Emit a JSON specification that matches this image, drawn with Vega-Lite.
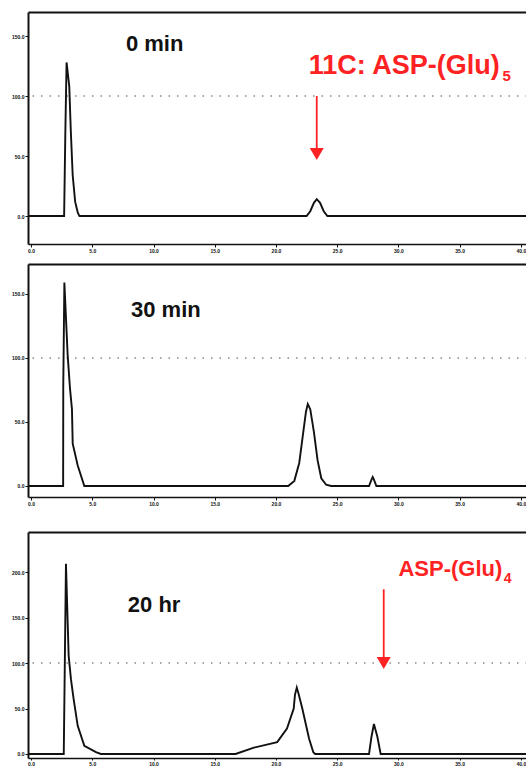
{
  "$schema": "https://vega.github.io/schema/vega-lite/v6.json",
  "background": "white",
  "padding": {"left": 11, "top": 12, "right": 0, "bottom": 0},
  "config": {
    "view": {"stroke": null},
    "font": "Liberation Sans",
    "axis": {"grid": false, "title": null, "domainColor": "#111", "tickColor": "#111", "labelColor": "#111", "labelFont": "Liberation Sans", "labelFontWeight": "bold", "labelFontSize": 5}
  },
  "datasets": {
    "p1": [
      {"t": -0.25, "v": 0}, {"t": 2.70, "v": 0}, {"t": 2.80, "v": 70}, {"t": 2.90, "v": 128}, {"t": 3.12, "v": 108}, {"t": 3.25, "v": 70}, {"t": 3.40, "v": 34}, {"t": 3.60, "v": 12}, {"t": 3.81, "v": 3}, {"t": 3.95, "v": 0},
      {"t": 22.5, "v": 0}, {"t": 22.8, "v": 4}, {"t": 23.1, "v": 11}, {"t": 23.33, "v": 14}, {"t": 23.6, "v": 11}, {"t": 23.9, "v": 4}, {"t": 24.2, "v": 0}, {"t": 40.5, "v": 0}
    ],
    "p2": [
      {"t": -0.25, "v": 0}, {"t": 2.62, "v": 0}, {"t": 2.63, "v": 78}, {"t": 2.72, "v": 159}, {"t": 2.99, "v": 102}, {"t": 3.18, "v": 76}, {"t": 3.34, "v": 60}, {"t": 3.40, "v": 33}, {"t": 3.81, "v": 16}, {"t": 4.35, "v": 0},
      {"t": 21.0, "v": 0}, {"t": 21.5, "v": 4}, {"t": 21.9, "v": 18}, {"t": 22.2, "v": 40}, {"t": 22.45, "v": 58}, {"t": 22.6, "v": 64}, {"t": 22.8, "v": 60}, {"t": 23.1, "v": 42}, {"t": 23.4, "v": 20}, {"t": 23.7, "v": 6}, {"t": 24.1, "v": 1}, {"t": 24.5, "v": 0},
      {"t": 27.6, "v": 0}, {"t": 27.8, "v": 5}, {"t": 27.9, "v": 7}, {"t": 28.0, "v": 5}, {"t": 28.2, "v": 0}, {"t": 40.5, "v": 0}
    ],
    "p3": [
      {"t": -0.25, "v": 0}, {"t": 2.67, "v": 0}, {"t": 2.85, "v": 209}, {"t": 3.07, "v": 108}, {"t": 3.26, "v": 82}, {"t": 3.48, "v": 60}, {"t": 3.81, "v": 31}, {"t": 4.35, "v": 9}, {"t": 5.3, "v": 2}, {"t": 5.7, "v": 0},
      {"t": 16.7, "v": 0}, {"t": 18.2, "v": 7}, {"t": 20.1, "v": 13}, {"t": 20.9, "v": 28}, {"t": 21.45, "v": 50}, {"t": 21.55, "v": 65}, {"t": 21.7, "v": 73}, {"t": 21.85, "v": 66}, {"t": 22.15, "v": 50}, {"t": 22.7, "v": 17}, {"t": 23.05, "v": 2}, {"t": 23.2, "v": 0},
      {"t": 27.6, "v": 0}, {"t": 27.8, "v": 19}, {"t": 28.0, "v": 33}, {"t": 28.28, "v": 19}, {"t": 28.55, "v": 0}, {"t": 40.5, "v": 0}
    ]
  },
  "vconcat": [
    {
      "vconcat": [
        {
          "width": 499, "height": 232,
          "resolve": {"axis": {"x": "independent"}},
          "layer": [
            {"data": {"values": [{"g": 100}]}, "mark": {"type": "rule", "color": "#888", "strokeDash": [1.5, 7], "strokeWidth": 1.5},
             "encoding": {"y": {"field": "g", "type": "quantitative", "scale": {"domain": [-23.3, 170]}}}},
            {"data": {"name": "p1"}, "mark": {"type": "line", "color": "#111", "strokeWidth": 1.9},
             "encoding": {
               "x": {"field": "t", "type": "quantitative", "scale": {"domain": [-0.25, 40.5], "nice": false, "zero": false}, "axis": {"orient": "bottom", "values": [0, 5, 10, 15, 20, 25, 30, 35, 40], "format": ".1f", "tickSize": 3, "labelPadding": 1, "domainWidth": 1.5}},
               "y": {"field": "v", "type": "quantitative", "scale": {"domain": [-23.3, 170], "nice": false, "zero": false}, "axis": {"values": [0, 50, 100, 150], "format": ".1f", "tickSize": 3, "labelPadding": 1, "domainWidth": 2}}}},
            {"data": {"values": [{"t": 7.75, "v": 137.5, "s": "0 min"}]}, "mark": {"type": "text", "align": "left", "baseline": "alphabetic", "fontSize": 22, "fontWeight": "bold", "color": "#111"},
             "encoding": {"x": {"field": "t", "type": "quantitative", "axis": {"orient": "top", "labels": false, "ticks": false, "domain": true, "domainWidth": 2}}, "y": {"field": "v", "type": "quantitative"}, "text": {"field": "s"}}},
            {"data": {"values": [{"t": 22.68, "v": 118.3, "s": "11C: ASP-(Glu)"}]}, "mark": {"type": "text", "align": "left", "baseline": "alphabetic", "fontSize": 27, "fontWeight": "bold", "color": "#ff2222"},
             "encoding": {"x": {"field": "t", "type": "quantitative", "axis": null}, "y": {"field": "v", "type": "quantitative"}, "text": {"field": "s"}}},
            {"data": {"values": [{"t": 38.5, "v": 112.5, "s": "5"}]}, "mark": {"type": "text", "align": "left", "baseline": "alphabetic", "fontSize": 15, "fontWeight": "bold", "color": "#ff2222"},
             "encoding": {"x": {"field": "t", "type": "quantitative", "axis": null}, "y": {"field": "v", "type": "quantitative"}, "text": {"field": "s"}}},
            {"data": {"values": [{"t": 23.33, "v": 100, "v2": 52}]}, "mark": {"type": "rule", "color": "#ff2222", "strokeWidth": 1.8},
             "encoding": {"x": {"field": "t", "type": "quantitative", "axis": null}, "y": {"field": "v", "type": "quantitative"}, "y2": {"field": "v2"}}},
            {"data": {"values": [{"t": 23.33, "v": 51.7}]}, "mark": {"type": "point", "shape": "triangle-down", "size": 196, "filled": true, "opacity": 1, "color": "#ff2222"},
             "encoding": {"x": {"field": "t", "type": "quantitative", "axis": null}, "y": {"field": "v", "type": "quantitative"}}}
          ]
        },
        {
          "width": 499, "height": 233,
          "resolve": {"axis": {"x": "independent"}},
          "layer": [
            {"data": {"values": [{"g": 100}]}, "mark": {"type": "rule", "color": "#888", "strokeDash": [1.5, 7], "strokeWidth": 1.5},
             "encoding": {"y": {"field": "g", "type": "quantitative", "scale": {"domain": [-8.6, 173.4]}}}},
            {"data": {"name": "p2"}, "mark": {"type": "line", "color": "#111", "strokeWidth": 1.9},
             "encoding": {
               "x": {"field": "t", "type": "quantitative", "scale": {"domain": [-0.25, 40.5], "nice": false, "zero": false}, "axis": {"orient": "bottom", "values": [0, 5, 10, 15, 20, 25, 30, 35, 40], "format": ".1f", "tickSize": 3, "labelPadding": 1, "domainWidth": 1.5}},
               "y": {"field": "v", "type": "quantitative", "scale": {"domain": [-8.6, 173.4], "nice": false, "zero": false}, "axis": {"values": [0, 50, 100, 150], "format": ".1f", "tickSize": 3, "labelPadding": 1, "domainWidth": 2}}}},
            {"data": {"values": [{"t": 8.16, "v": 132, "s": "30 min"}]}, "mark": {"type": "text", "align": "left", "baseline": "alphabetic", "fontSize": 22, "fontWeight": "bold", "color": "#111"},
             "encoding": {"x": {"field": "t", "type": "quantitative", "axis": {"orient": "top", "labels": false, "ticks": false, "domain": true, "domainWidth": 2}}, "y": {"field": "v", "type": "quantitative"}, "text": {"field": "s"}}}
          ]
        }
      ],
      "spacing": 11
    },
    {
      "width": 499, "height": 226,
      "resolve": {"axis": {"x": "independent"}},
      "layer": [
        {"data": {"values": [{"g": 100}]}, "mark": {"type": "rule", "color": "#888", "strokeDash": [1.5, 7], "strokeWidth": 1.5},
         "encoding": {"y": {"field": "g", "type": "quantitative", "scale": {"domain": [-4.4, 244]}}}},
        {"data": {"name": "p3"}, "mark": {"type": "line", "color": "#111", "strokeWidth": 1.9},
         "encoding": {
           "x": {"field": "t", "type": "quantitative", "scale": {"domain": [-0.25, 40.5], "nice": false, "zero": false}, "axis": {"orient": "bottom", "values": [0, 5, 10, 15, 20, 25, 30, 35, 40], "format": ".1f", "tickSize": 2, "labelPadding": 1, "domainWidth": 1.5}},
           "y": {"field": "v", "type": "quantitative", "scale": {"domain": [-4.4, 244], "nice": false, "zero": false}, "axis": {"values": [0, 50, 100, 150, 200], "format": ".1f", "tickSize": 3, "labelPadding": 1, "domainWidth": 2}}}},
        {"data": {"values": [{"t": 7.9, "v": 156, "s": "20 hr"}]}, "mark": {"type": "text", "align": "left", "baseline": "alphabetic", "fontSize": 22, "fontWeight": "bold", "color": "#111"},
         "encoding": {"x": {"field": "t", "type": "quantitative", "axis": {"orient": "top", "labels": false, "ticks": false, "domain": true, "domainWidth": 2}}, "y": {"field": "v", "type": "quantitative"}, "text": {"field": "s"}}},
        {"data": {"values": [{"t": 30.0, "v": 195.6, "s": "ASP-(Glu)"}]}, "mark": {"type": "text", "align": "left", "baseline": "alphabetic", "fontSize": 22, "fontWeight": "bold", "color": "#ff2222"},
         "encoding": {"x": {"field": "t", "type": "quantitative", "axis": null}, "y": {"field": "v", "type": "quantitative"}, "text": {"field": "s"}}},
        {"data": {"values": [{"t": 38.6, "v": 188, "s": "4"}]}, "mark": {"type": "text", "align": "left", "baseline": "alphabetic", "fontSize": 14, "fontWeight": "bold", "color": "#ff2222"},
         "encoding": {"x": {"field": "t", "type": "quantitative", "axis": null}, "y": {"field": "v", "type": "quantitative"}, "text": {"field": "s"}}},
        {"data": {"values": [{"t": 28.8, "v": 181, "v2": 101}]}, "mark": {"type": "rule", "color": "#ff2222", "strokeWidth": 1.8},
         "encoding": {"x": {"field": "t", "type": "quantitative", "axis": null}, "y": {"field": "v", "type": "quantitative"}, "y2": {"field": "v2"}}},
        {"data": {"values": [{"t": 28.8, "v": 100}]}, "mark": {"type": "point", "shape": "triangle-down", "size": 196, "filled": true, "opacity": 1, "color": "#ff2222"},
         "encoding": {"x": {"field": "t", "type": "quantitative", "axis": null}, "y": {"field": "v", "type": "quantitative"}}}
      ]
    }
  ],
  "spacing": 26
}
